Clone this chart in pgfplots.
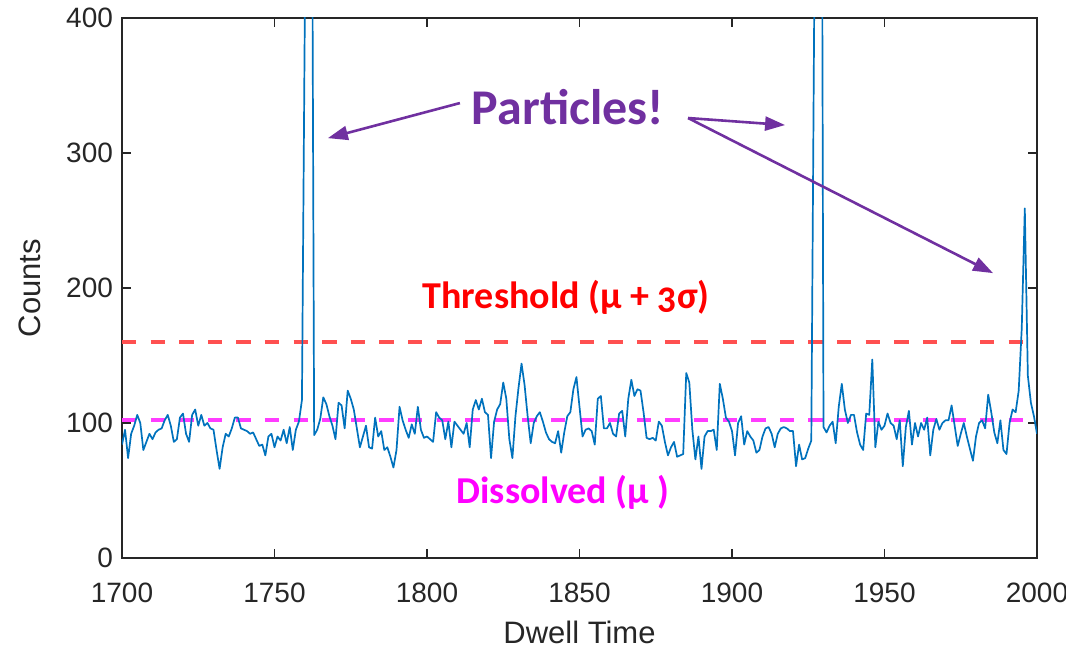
\documentclass[border=0pt]{standalone}
\usepackage{fontspec}
\setmainfont{Liberation Sans}
\newfontfamily\annot[Numbers=OldStyle]{Carlito}
\usepackage{pgfplots}
\usepackage{pgfplotstable}
\pgfplotsset{compat=1.18}
\usetikzlibrary{arrows.meta}
\definecolor{mblue}{RGB}{0,114,189}
\definecolor{thr}{RGB}{255,80,80}
\definecolor{dis}{RGB}{255,60,255}
\definecolor{purp}{RGB}{112,48,160}
\definecolor{axgray}{RGB}{38,38,38}
\pgfplotstableread{
x y
1700 84
1701 95
1702 74
1703 92
1704 98
1705 106
1706 100
1707 80
1708 86
1709 92
1710 88
1711 93
1712 95
1713 96
1714 102
1715 106
1716 98
1717 86
1718 88
1719 104
1720 107
1721 92
1722 86
1723 106
1724 110
1725 98
1726 106
1727 98
1728 100
1729 96
1730 95
1731 80
1732 66
1733 82
1734 92
1735 90
1736 96
1737 104
1738 104
1739 96
1740 95
1741 94
1742 92
1743 93
1744 88
1745 83
1746 84
1747 76
1748 90
1749 92
1750 82
1751 90
1752 87
1753 95
1754 85
1755 97
1756 80
1757 95
1758 101
1759 117
1760 420
1761 1000
1762 700
1763 91
1764 95
1765 103
1766 119
1767 114
1768 105
1769 98
1770 88
1771 115
1772 113
1773 96
1774 124
1775 118
1776 110
1777 96
1778 82
1779 90
1780 98
1781 82
1782 81
1783 104
1784 90
1785 94
1786 80
1787 82
1788 75
1789 67
1790 80
1791 112
1792 102
1793 95
1794 89
1795 99
1796 92
1797 112
1798 95
1799 89
1800 90
1801 88
1802 86
1803 108
1804 104
1805 102
1806 88
1807 101
1808 82
1809 101
1810 98
1811 95
1812 92
1813 100
1814 82
1815 110
1816 117
1817 110
1818 118
1819 108
1820 106
1821 74
1822 101
1823 110
1824 114
1825 130
1826 118
1827 88
1828 74
1829 105
1830 126
1831 144
1832 128
1833 105
1834 85
1835 100
1836 105
1837 108
1838 101
1839 93
1840 88
1841 86
1842 85
1843 94
1844 78
1845 93
1846 105
1847 108
1848 125
1849 134
1850 112
1851 90
1852 95
1853 96
1854 94
1855 84
1856 118
1857 120
1858 96
1859 96
1860 100
1861 92
1862 90
1863 107
1864 109
1865 90
1866 118
1867 132
1868 120
1869 125
1870 124
1871 108
1872 89
1873 88
1874 89
1875 87
1876 101
1877 98
1878 86
1879 76
1880 82
1881 86
1882 75
1883 76
1884 77
1885 137
1886 130
1887 95
1888 73
1889 90
1890 66
1891 90
1892 94
1893 94
1894 95
1895 80
1896 129
1897 118
1898 104
1899 101
1900 94
1901 76
1902 100
1903 105
1904 84
1905 94
1906 90
1907 87
1908 78
1909 80
1910 90
1911 96
1912 97
1913 92
1914 82
1915 92
1916 96
1917 97
1918 96
1919 94
1920 94
1921 68
1922 84
1923 73
1924 74
1925 81
1926 87
1927 420
1928 1000
1929 900
1930 97
1931 93
1932 98
1933 101
1934 85
1935 112
1936 129
1937 110
1938 100
1939 106
1940 106
1941 93
1942 84
1943 80
1944 107
1945 106
1946 147
1947 82
1948 101
1949 95
1950 98
1951 107
1952 100
1953 98
1954 88
1955 102
1956 68
1957 97
1958 109
1959 84
1960 100
1961 90
1962 100
1963 95
1964 104
1965 76
1966 95
1967 103
1968 95
1969 100
1970 102
1971 102
1972 113
1973 98
1974 83
1975 92
1976 100
1977 90
1978 81
1979 72
1980 90
1981 100
1982 102
1983 96
1984 121
1985 108
1986 93
1987 85
1988 102
1989 80
1990 77
1991 100
1992 110
1993 108
1994 124
1995 170
1996 259
1997 135
1998 115
1999 105
2000 92
}\counts
\pgfplotstableread{
x y
1700 160
1997.5 160
}\threshold
\pgfplotstableread{
x y
1700 102
1997.5 102
}\dissolved
\begin{document}
\begin{tikzpicture}
\path[use as bounding box] (-61pt,-46.5pt) rectangle (472pt,279pt);
\begin{axis}[
  scale only axis,
  width=457.5pt, height=270pt,
  at={(0,0)}, anchor=south west,
  xmin=1700, xmax=2000, ymin=0, ymax=400,
  xtick={1700,1750,...,2000},
  ytick={0,100,...,400},
  tick align=inside,
  major tick length=4.5pt,
  axis line style={axgray, line width=0.6pt},
  every tick/.style={axgray, line width=0.6pt},
  tick label style={font=\fontsize{14}{16}\selectfont, text=axgray},
  /pgf/number format/assume math mode=true,
  /pgf/number format/set thousands separator={},
  xticklabel style={yshift=-9pt},
  yticklabel style={xshift=-1pt},
  xlabel={Dwell Time},
  ylabel={Counts},
  xlabel style={at={(axis description cs:0.5,-0.137)}, anchor=center, font=\fontsize{15.5}{18}\selectfont, text=axgray},
  ylabel style={at={(axis description cs:-0.1005,0.5)}, anchor=center, rotate=0, font=\fontsize{15.5}{18}\selectfont, text=axgray},
  clip=true,
]
\addplot[thr, line width=2.2pt, dash pattern=on 7.2pt off 7.1pt] table {\threshold};
\addplot[dis, line width=2.2pt, dash pattern=on 7.2pt off 7.1pt] table {\dissolved};
\addplot[mblue, line width=0.85pt, line join=round] table {\counts};
\node[font=\annot\bfseries\fontsize{25}{30}\selectfont, text=purp] at (axis cs:1846.2,334) {Particles!};
\node[font=\annot\bfseries\fontsize{19}{23}\selectfont, text=red] at (axis cs:1845.6,193.3) {Threshold (μ + 3σ)};
\node[font=\annot\bfseries\fontsize{19}{23}\selectfont, text={rgb,255:red,255;green,0;blue,255}] at (axis cs:1844.6,48.9) {Dissolved (μ )};
\draw[purp, line width=1.3pt, -{Triangle[length=10pt,width=7pt]}] (axis cs:1810.8,337) -- (axis cs:1767.5,311);
\draw[purp, line width=1.3pt, -{Triangle[length=10pt,width=7pt]}] (axis cs:1885.6,325.9) -- (axis cs:1917.4,320.7);
\draw[purp, line width=1.3pt, -{Triangle[length=10pt,width=7pt]}] (axis cs:1885.6,325.9) -- (axis cs:1985.6,211);
\end{axis}
\end{tikzpicture}
\end{document}
